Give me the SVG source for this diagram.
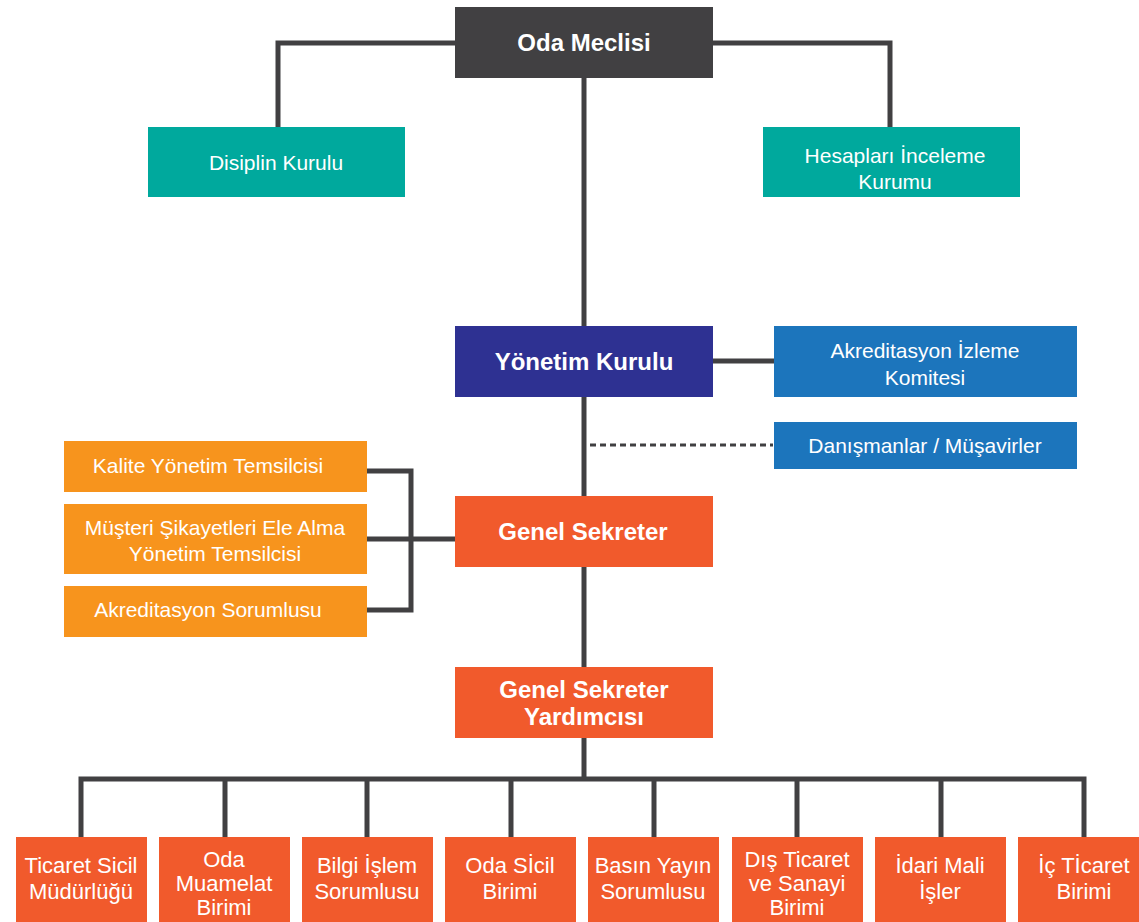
<svg xmlns="http://www.w3.org/2000/svg" width="1139" height="922" viewBox="0 0 1139 922">
<style>
.t{font-family:"Liberation Sans",Arial,sans-serif;font-size:21px;fill:#fff;text-anchor:middle;dominant-baseline:central}
.s{font-size:22px}
.b{font-family:"Liberation Sans",Arial,sans-serif;font-size:24px;font-weight:bold;fill:#fff;text-anchor:middle;dominant-baseline:central}
.ln{fill:none;stroke:#414042;stroke-width:5}
.dk{fill:#414042}.tl{fill:#00A99D}.nv{fill:#2E3192}.bl{fill:#1C75BC}.or{fill:#F7941D}.rd{fill:#F15A2C}
</style>
<rect width="1139" height="922" fill="#fff"/>
<g id="connectors">
<path class="ln" d="M584 77V779"/>
<path class="ln" d="M455 43H278V127"/>
<path class="ln" d="M712 43H890V127"/>
<path class="ln" d="M712 361H775"/>
<path d="M590 445H773" fill="none" stroke="#414042" stroke-width="3" stroke-dasharray="6 4"/>
<path class="ln" d="M366 471H411V610H366M366 539H455"/>
<path class="ln" d="M81 837V779H1084V837M225 779V837M367 779V837M511 779V837M654 779V837M797 779V837M941 779V837"/>
</g>
<g id="oda-meclisi"><rect class="dk" x="455" y="7" width="258" height="71"/><text class="b" x="584" y="42">Oda Meclisi</text></g>
<g id="disiplin-kurulu"><rect class="tl" x="148" y="127" width="257" height="70"/><text class="t" x="276" y="162">Disiplin Kurulu</text></g>
<g id="hesaplari-inceleme"><rect class="tl" x="763" y="127" width="257" height="70"/><text class="t" x="895" y="155">Hesapları İnceleme</text><text class="t" x="895" y="181">Kurumu</text></g>
<g id="yonetim-kurulu"><rect class="nv" x="455" y="326" width="258" height="71"/><text class="b" x="584" y="361">Yönetim Kurulu</text></g>
<g id="akreditasyon-izleme"><rect class="bl" x="774" y="326" width="303" height="71"/><text class="t" x="925" y="350">Akreditasyon İzleme</text><text class="t" x="925" y="377">Komitesi</text></g>
<g id="danismanlar"><rect class="bl" x="774" y="422" width="303" height="47"/><text class="t" x="925" y="445">Danışmanlar / Müşavirler</text></g>
<g id="kalite"><rect class="or" x="64" y="441" width="303" height="51"/><text class="t" x="208" y="465">Kalite Yönetim Temsilcisi</text></g>
<g id="musteri-sikayetleri"><rect class="or" x="64" y="504" width="303" height="70"/><text class="t" x="215" y="527">Müşteri Şikayetleri Ele Alma</text><text class="t" x="215" y="553">Yönetim Temsilcisi</text></g>
<g id="akreditasyon-sorumlusu"><rect class="or" x="64" y="586" width="303" height="51"/><text class="t" x="208" y="609">Akreditasyon Sorumlusu</text></g>
<g id="genel-sekreter"><rect class="rd" x="455" y="496" width="258" height="71"/><text class="b" x="583" y="531">Genel Sekreter</text></g>
<g id="genel-sekreter-yardimcisi"><rect class="rd" x="455" y="667" width="258" height="71"/><text class="b" x="584" y="689">Genel Sekreter</text><text class="b" x="584" y="716">Yardımcısı</text></g>
<g id="ticaret-sicil"><rect class="rd" x="16" y="837" width="131" height="85"/><text class="t s" x="81" y="865">Ticaret Sicil</text><text class="t s" x="81" y="891">Müdürlüğü</text></g>
<g id="oda-muamelat"><rect class="rd" x="159" y="837" width="131" height="85"/><text class="t s" x="224" y="859">Oda</text><text class="t s" x="224" y="883">Muamelat</text><text class="t s" x="224" y="907">Birimi</text></g>
<g id="bilgi-islem"><rect class="rd" x="302" y="837" width="131" height="85"/><text class="t s" x="367" y="865">Bilgi İşlem</text><text class="t s" x="367" y="891">Sorumlusu</text></g>
<g id="oda-sicil"><rect class="rd" x="445" y="837" width="131" height="85"/><text class="t s" x="510" y="865">Oda Sİcil</text><text class="t s" x="510" y="891">Birimi</text></g>
<g id="basin-yayin"><rect class="rd" x="588" y="837" width="131" height="85"/><text class="t s" x="653" y="865">Basın Yayın</text><text class="t s" x="653" y="891">Sorumlusu</text></g>
<g id="dis-ticaret"><rect class="rd" x="732" y="837" width="131" height="85"/><text class="t s" x="797" y="859">Dış Ticaret</text><text class="t s" x="797" y="883">ve Sanayi</text><text class="t s" x="797" y="907">Birimi</text></g>
<g id="idari-mali"><rect class="rd" x="875" y="837" width="131" height="85"/><text class="t s" x="940" y="865">İdari Mali</text><text class="t s" x="940" y="891">İşler</text></g>
<g id="ic-ticaret"><rect class="rd" x="1018" y="837" width="131" height="85"/><text class="t s" x="1084" y="865">İç Tİcaret</text><text class="t s" x="1084" y="891">Birimi</text></g>
</svg>
